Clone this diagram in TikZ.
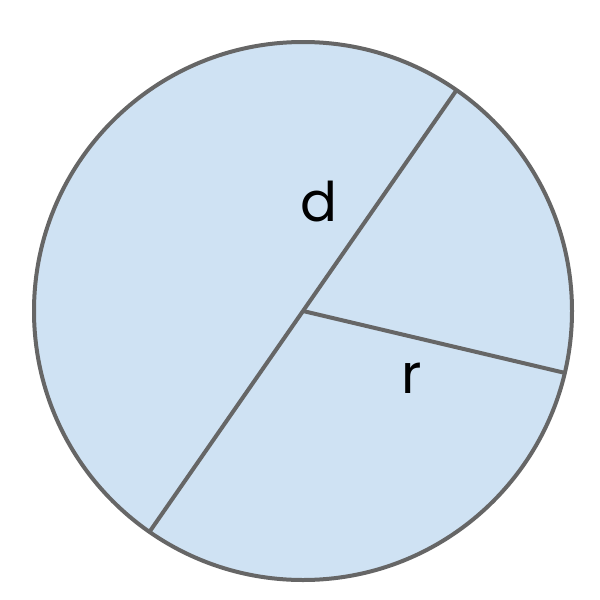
\documentclass[tikz,border=0pt]{standalone}
\usepackage{fontspec}
\setmainfont{Poppins}
\usepackage{xcolor}
\usetikzlibrary{positioning,calc}
\definecolor{discfill}{HTML}{CFE2F3}
\definecolor{discline}{HTML}{666666}

\begin{document}
\begin{tikzpicture}[x=0.75pt,y=-0.75pt,line width=3pt]
    \useasboundingbox (0,0) rectangle (600,600);
    % circle
    \coordinate (O) at (303,311);
    \draw[discline, fill=discfill] (O) circle[radius=269*0.75pt];
    % diameter
    \coordinate (dA) at ($(O)+(55.2:269*0.75pt)$);
    \coordinate (dB) at ($(O)+(235.2:269*0.75pt)$);
    \draw[discline] (dA) -- (dB);
    % radius
    \coordinate (rA) at ($(O)+(-13.3:269*0.75pt)$);
    \draw[discline] (O) -- (rA);
    \node[font=\fontsize{41}{45}\selectfont] (dlabel) at (319,202) {d};
    \node[font=\fontsize{41}{45}\selectfont] (rlabel) at (412,378) {r};
\end{tikzpicture}
\end{document}
